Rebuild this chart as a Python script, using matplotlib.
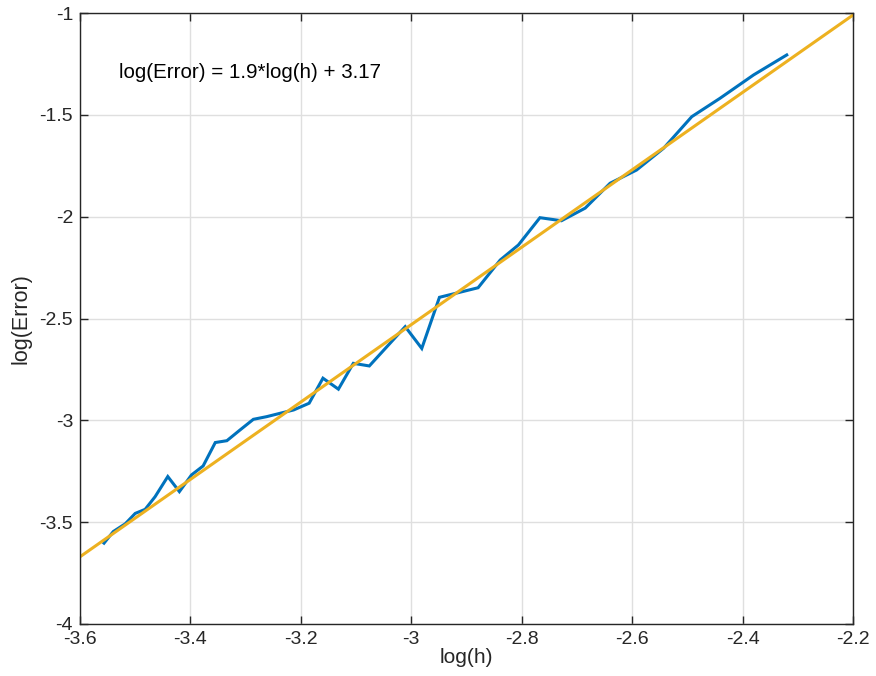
import numpy as np
import matplotlib
matplotlib.use("Agg")
import matplotlib.pyplot as plt

# Convergence data: log of mesh size vs log of error
log_h = [-3.5565, -3.5397, -3.518, -3.500, -3.482, -3.464, -3.441, -3.420,
         -3.398, -3.377, -3.355, -3.334, -3.310, -3.286, -3.262, -3.237,
         -3.213, -3.185, -3.160, -3.132, -3.105, -3.076, -3.011, -2.981,
         -2.949, -2.879, -2.839, -2.806, -2.767, -2.728, -2.685, -2.640,
         -2.592, -2.543, -2.492, -2.441, -2.380, -2.320]
log_err = [-3.603, -3.546, -3.508, -3.457, -3.437, -3.375, -3.276, -3.350,
           -3.268, -3.224, -3.109, -3.100, -3.047, -2.995, -2.982, -2.965,
           -2.949, -2.916, -2.793, -2.847, -2.720, -2.733, -2.540, -2.647,
           -2.396, -2.349, -2.213, -2.139, -2.005, -2.020, -1.958, -1.836,
           -1.771, -1.664, -1.509, -1.419, -1.304, -1.206]

# Least-squares fit reported on the plot
slope = 1.9
intercept = 3.17
fit_x = [-3.6, -2.2]

x_ticks = [-3.6, -3.4, -3.2, -3.0, -2.8, -2.6, -2.4, -2.2]
x_tick_labels = ["-3.6", "-3.4", "-3.2", "-3", "-2.8", "-2.6", "-2.4", "-2.2"]
y_ticks = [-4, -3.5, -3, -2.5, -2, -1.5, -1]
y_tick_labels = ["-4", "-3.5", "-3", "-2.5", "-2", "-1.5", "-1"]

plt.rcParams["font.family"] = ["Liberation Sans", "DejaVu Sans"]

fig = plt.figure(figsize=(8.76, 6.76), dpi=100)
ax = fig.add_axes([80 / 876, 52 / 676, 773 / 876, 611 / 676])

ax.plot(log_h, log_err, color="#0072BD", lw=2.2, solid_joinstyle="miter")
fit_y = [slope * v + intercept for v in fit_x]
ax.plot(fit_x, fit_y, color="#EDB120", lw=2.2)

ax.set_xlim(-3.6, -2.2)
ax.set_ylim(-4, -1)
ax.set_xticks(x_ticks)
ax.set_xticklabels(x_tick_labels)
ax.set_yticks(y_ticks)
ax.set_yticklabels(y_tick_labels)

ax.grid(True, color="#dfdfdf", lw=1.0)
ax.set_axisbelow(True)
for s in ax.spines.values():
    s.set_color("#262626")
    s.set_linewidth(1.0)
ax.tick_params(direction="in", length=6, width=1.0, colors="#262626",
               labelsize=14, top=True, right=True, pad=5)

ax.set_xlabel("log(h)", fontsize=15, color="#262626", labelpad=0)
ax.set_ylabel("log(Error)", fontsize=15.5, color="#262626", labelpad=6)

ax.text(-3.529, -1.29, "log(Error) = 1.9*log(h) + 3.17", fontsize=14.8,
        color="black", ha="left", va="center")

fig.savefig("out.png", dpi=100)
